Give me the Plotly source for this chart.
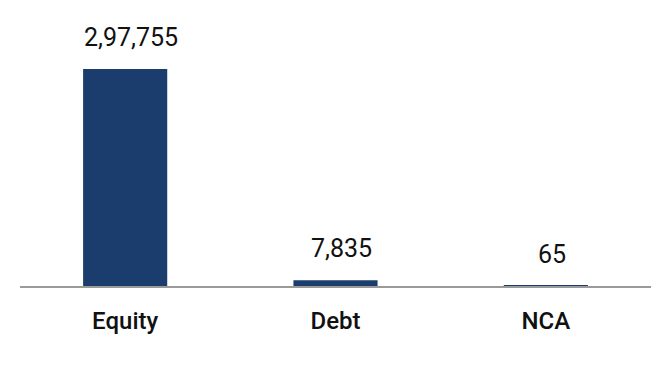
import plotly.graph_objects as go

categories = ["Equity", "Debt", "NCA"]
values = [297755, 7835, 65]
value_labels = ["2,97,755", "7,835", "65"]

BAR_COLOR = "#1b3d6e"

fig = go.Figure()
fig.add_trace(go.Bar(
    x=categories, y=values,
    marker=dict(color=BAR_COLOR, line=dict(width=0)),
    width=0.4,
    hoverinfo="skip",
))

for c, v, t in zip(categories, values, value_labels):
    fig.add_annotation(
        x=c, y=v, text=t, showarrow=False,
        yanchor="bottom", yshift=15, xshift=6,
        font=dict(family="Roboto", size=25, color="#111111"),
    )

plot_h = 365 - 20 - 79
ymax = 297755 * plot_h / 217

fig.update_layout(
    width=664, height=365,
    margin=dict(l=20, r=13, t=20, b=79),
    paper_bgcolor="white", plot_bgcolor="white",
    showlegend=False,
    xaxis=dict(
        showline=True, linecolor="#9a9a9a", linewidth=2,
        showgrid=False, zeroline=False,
        ticks="", ticklabelstandoff=12,
        tickfont=dict(family="Roboto Medium, Roboto", size=24, color="#111111"),
    ),
    yaxis=dict(
        range=[0, ymax], visible=False, showgrid=False, zeroline=False,
    ),
)

fig.write_html("out.html")
